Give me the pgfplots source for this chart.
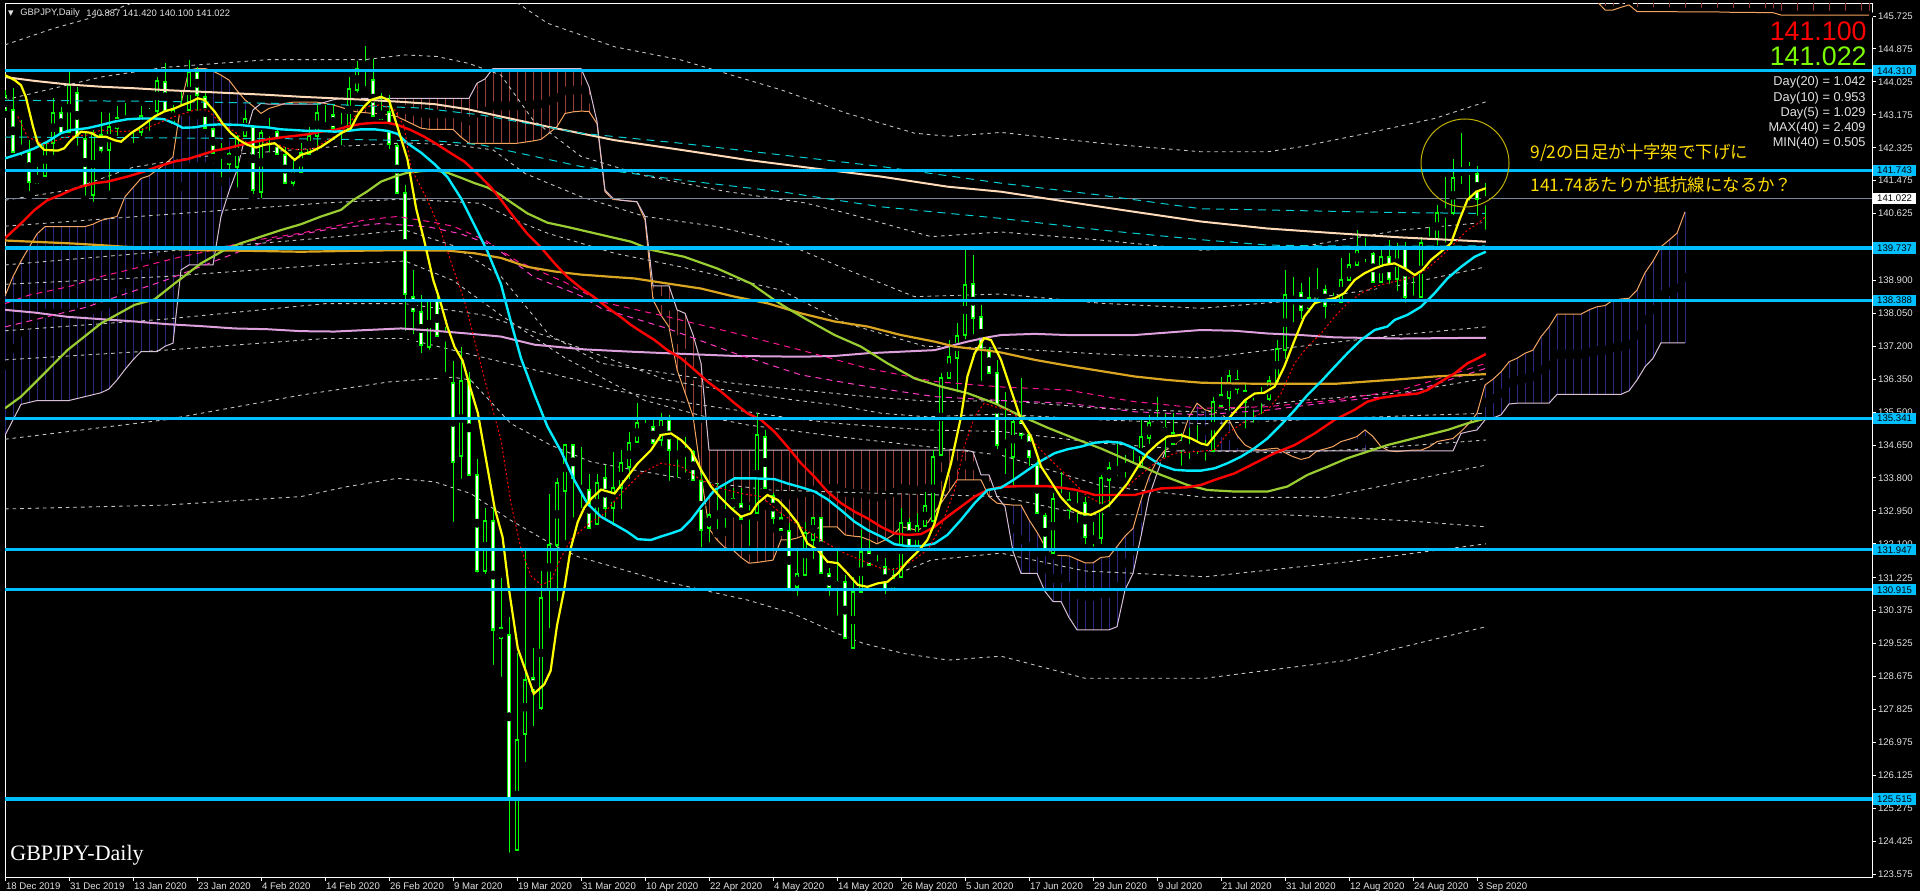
\documentclass[border=0pt]{standalone}
\usepackage{fontspec}
\setmainfont{Liberation Sans}
\newfontfamily\serifmt{Liberation Serif}
\newfontfamily\cjk{Noto Sans CJK JP}
\newfontfamily\djv{DejaVu Sans}
\usepackage{pgfplots}
\usepackage{pgfplotstable}
\pgfplotsset{compat=1.18}
\definecolor{mtgreen}{RGB}{0,255,0}
\definecolor{mtyellow}{RGB}{255,255,0}
\definecolor{mtcyan}{RGB}{0,235,255}
\definecolor{mtred}{RGB}{255,0,0}
\definecolor{mtyg}{RGB}{154,205,50}
\definecolor{mtgold}{RGB}{218,165,32}
\definecolor{mtplum}{RGB}{221,160,221}
\definecolor{mtpeach}{RGB}{255,218,185}
\definecolor{mtturq}{RGB}{0,206,209}
\definecolor{mtpink}{RGB}{255,20,147}
\definecolor{mtmag}{RGB}{255,60,200}
\definecolor{mtgray}{RGB}{195,195,195}
\definecolor{mtblue}{RGB}{0,191,255}
\definecolor{mtslate}{RGB}{119,136,153}
\definecolor{cloudnavy}{RGB}{40,40,130}
\definecolor{cloudbrown}{RGB}{150,60,50}
\definecolor{spanA}{RGB}{244,164,96}
\definecolor{spanB}{RGB}{216,191,216}
\definecolor{jpyellow}{RGB}{255,220,0}
\definecolor{circyellow}{RGB}{190,175,0}
\definecolor{bignum}{RGB}{124,252,0}
\definecolor{lbl}{RGB}{225,225,225}

\pgfplotsset{ebar/.style 2 args={forget plot, only marks, mark=none, error bars/.cd, y dir=#1, y explicit, error mark=none, error bar style={solid, #2}}}
\pgfplotsset{gd/.style={mtgray, line width=0.45pt, dash pattern=on 1.8pt off 2pt}}
\pgfplotsset{lvl/.style={mtblue, line width=1.6pt}}
\tikzset{tag/.style={anchor=west, fill=mtblue, text=black, inner xsep=1.9pt, inner ysep=0.5pt, xshift=0.5pt, font=\fontsize{4.8}{5.5}\selectfont, minimum height=5.6pt}}

% GBPJPY daily candles: bar index, open, high, low, close
\pgfplotstableread{
i o h l c
0 143.67 143.82 143.21 143.30
1 143.30 143.86 142.18 142.22
2 142.28 143.04 142.01 142.30
3 142.22 142.52 141.10 141.45
4 141.60 141.84 141.30 141.42
5 141.60 142.46 141.58 142.44
6 142.46 143.60 142.03 143.23
7 143.23 143.38 142.70 142.71
8 142.74 144.35 142.70 143.94
9 143.73 143.90 142.27 142.59
10 142.55 142.74 140.98 141.34
11 141.11 142.78 140.82 142.70
12 142.65 143.26 142.09 142.28
13 142.27 143.21 141.11 142.87
14 142.83 143.40 142.52 143.08
15 143.07 143.47 142.87 143.02
16 142.80 142.95 142.33 142.85
17 142.74 143.40 142.52 143.15
18 143.15 143.34 142.65 143.26
19 143.27 144.16 143.08 144.05
20 144.01 144.50 143.21 143.27
21 142.96 143.43 142.94 143.30
22 143.30 143.82 143.26 143.34
23 143.30 144.59 143.26 144.29
24 144.29 144.42 143.17 143.69
25 143.64 143.73 142.78 142.83
26 142.80 142.83 142.05 142.18
27 142.18 142.44 141.45 142.14
28 142.16 142.22 141.66 141.91
29 141.84 142.65 141.19 142.59
30 142.63 143.30 142.52 143.08
31 142.85 142.91 141.02 141.23
32 141.19 142.78 140.91 142.70
33 142.70 143.08 142.09 142.77
34 142.74 142.78 142.07 142.16
35 142.14 142.35 141.36 141.41
36 141.41 142.05 141.23 141.75
37 141.71 142.44 141.66 142.18
38 142.16 142.87 142.09 142.63
39 142.63 143.47 142.14 143.21
40 142.81 143.43 142.78 142.92
41 143.17 143.43 142.78 142.83
42 142.78 143.21 142.28 142.84
43 142.78 144.16 142.74 143.83
44 143.81 144.57 143.64 144.37
45 144.37 144.95 143.81 144.53
46 144.07 144.61 143.08 143.14
47 143.26 143.73 142.94 143.08
48 143.26 143.69 142.18 142.42
49 142.38 142.44 141.15 141.17
50 141.16 141.36 137.49 138.54
51 138.48 139.17 137.40 138.11
52 138.08 138.52 136.91 137.24
53 137.18 138.38 137.00 138.38
54 138.37 138.64 137.35 137.47
55 137.47 137.70 136.42 137.41
56 136.26 136.83 132.56 134.22
57 134.37 137.18 133.67 136.30
58 136.32 136.54 133.79 133.87
59 133.88 134.28 131.25 131.39
60 131.39 133.03 131.21 132.70
61 132.70 133.03 128.87 129.89
62 129.93 131.21 128.56 129.66
63 129.75 130.22 124.02 125.52
64 124.20 129.28 124.15 127.04
65 127.18 131.97 126.36 128.58
66 128.64 129.40 127.29 128.29
67 127.86 131.41 127.70 130.71
68 130.92 133.38 129.81 132.06
69 132.06 133.79 130.51 133.66
70 133.47 134.66 132.09 134.64
71 134.64 134.66 132.67 133.79
72 133.55 134.59 132.91 133.47
73 133.49 133.90 132.44 132.50
74 132.62 133.90 132.53 133.67
75 133.79 134.14 132.67 133.03
76 133.03 134.48 132.46 133.55
77 133.53 134.52 132.89 134.18
78 134.09 134.99 133.66 134.71
79 134.74 135.73 134.61 135.21
80 135.14 135.38 134.87 135.08
81 135.11 135.30 134.61 134.71
82 134.78 135.47 134.52 135.30
83 135.30 135.43 133.62 134.52
84 134.42 134.87 133.70 134.37
85 134.49 134.87 133.83 134.43
86 134.48 134.52 133.75 133.75
87 133.73 134.05 131.90 132.46
88 132.50 132.89 132.03 132.84
89 132.87 133.66 132.37 132.83
90 132.90 133.62 132.41 132.87
91 133.06 133.53 132.89 133.25
92 133.12 133.53 132.72 132.73
93 132.76 133.10 131.94 132.93
94 132.89 135.47 132.80 134.91
95 134.87 135.04 133.45 133.53
96 133.34 133.40 132.50 132.76
97 132.78 132.89 132.42 132.46
98 132.44 132.63 130.82 130.91
99 130.98 131.98 130.65 131.31
100 131.30 132.67 131.25 132.37
101 132.20 132.80 131.60 132.76
102 132.76 132.80 131.21 131.34
103 131.32 131.47 130.65 130.95
104 131.12 131.94 130.14 130.93
105 131.12 131.30 129.62 129.66
106 129.40 131.25 129.40 130.87
107 130.87 132.46 130.74 131.90
108 131.90 132.20 131.55 131.55
109 131.57 131.81 131.43 131.49
110 131.49 131.73 130.69 130.91
111 130.95 131.47 130.87 131.21
112 131.25 133.02 131.17 132.63
113 132.63 132.76 132.03 132.04
114 132.04 132.89 131.94 132.56
115 132.56 133.45 132.54 133.08
116 132.70 134.52 132.54 134.35
117 134.39 136.50 134.31 136.37
118 136.37 137.36 136.29 136.93
119 136.91 137.79 135.90 137.46
120 137.49 139.69 137.27 138.78
121 138.81 139.56 137.40 137.92
122 137.95 138.27 136.20 137.12
123 137.10 137.19 136.45 136.50
124 136.50 136.85 134.44 134.65
125 134.71 136.03 133.79 134.65
126 134.35 135.34 133.49 135.25
127 135.25 136.37 134.69 134.91
128 134.91 134.99 134.00 134.35
129 134.13 134.26 132.84 132.89
130 132.82 132.89 131.90 131.98
131 131.86 133.40 131.81 133.25
132 133.21 133.96 133.15 133.36
133 133.23 133.45 132.63 132.97
134 132.97 133.45 132.54 133.10
135 133.15 133.30 131.98 132.28
136 132.15 132.67 131.92 132.27
137 132.24 133.88 131.98 133.79
138 133.76 134.22 132.93 134.05
139 133.98 134.70 133.75 134.02
140 134.01 134.39 133.70 134.14
141 134.02 134.52 134.00 134.13
142 134.09 135.38 134.05 134.85
143 134.82 135.43 134.57 135.23
144 135.23 135.90 134.95 135.11
145 135.08 135.47 134.22 134.91
146 134.95 135.47 134.57 134.68
147 134.67 134.95 134.01 134.61
148 134.59 135.08 134.18 134.54
149 134.54 135.17 134.31 134.63
150 134.65 134.78 134.14 134.50
151 134.50 135.90 134.35 135.77
152 135.66 136.41 135.51 135.94
153 135.87 136.60 135.43 136.43
154 136.33 136.60 135.86 136.11
155 136.05 136.26 134.97 135.77
156 135.71 135.86 135.12 135.66
157 135.83 136.16 135.34 135.86
158 135.83 136.43 135.68 136.30
159 136.30 137.36 136.20 137.12
160 137.10 139.17 136.76 138.52
161 138.31 138.99 137.71 138.48
162 138.58 138.84 137.79 138.15
163 138.18 138.99 137.96 138.44
164 138.48 139.21 138.31 138.65
165 138.65 138.78 137.81 138.24
166 138.29 138.57 138.18 138.48
167 138.35 139.47 138.31 138.91
168 138.91 139.60 138.82 139.30
169 139.30 140.20 139.17 139.69
170 139.62 139.99 139.26 139.52
171 139.58 139.64 138.78 138.87
172 138.87 139.73 138.74 139.51
173 139.50 139.94 138.70 138.95
174 138.95 139.86 138.52 139.77
175 139.75 139.90 138.22 138.48
176 138.41 138.99 138.22 138.38
177 138.48 140.03 138.39 139.87
178 139.84 140.29 139.64 139.99
179 139.96 140.85 139.69 140.63
180 140.63 141.58 139.77 140.65
181 140.65 142.03 140.48 141.54
182 141.65 142.70 141.28 141.77
183 141.75 141.96 140.85 141.72
184 141.66 141.85 140.46 140.99
185 140.887 141.420 140.100 141.022
}\candles

% Ichimoku cloud: bar index, senkou span A, senkou span B
\pgfplotstableread{
i A B
0 138.50 134.90
1 139.00 135.30
2 139.40 135.70
3 139.75 135.75
4 140.10 135.80
5 140.29 135.80
6 140.29 135.80
7 140.29 135.80
8 140.29 135.80
9 140.29 135.85
10 140.29 135.90
11 140.35 135.95
12 140.45 136.00
13 140.50 136.10
14 140.55 136.33
15 141.06 136.60
16 141.30 136.85
17 141.53 137.06
18 141.60 137.06
19 141.75 137.06
20 141.90 137.20
21 142.09 137.28
22 143.47 139.17
23 144.33 139.30
24 144.37 139.30
25 144.37 139.30
26 144.30 139.30
27 144.20 140.55
28 144.07 141.20
29 143.80 141.75
30 143.56 142.60
31 143.40 143.30
32 143.21 143.47
33 143.34 143.45
34 143.40 143.45
35 143.47 143.45
36 143.50 143.45
37 143.50 143.45
38 143.50 143.45
39 143.50 143.45
40 143.47 143.50
41 143.43 143.56
42 143.37 143.60
43 143.30 143.60
44 143.25 143.60
45 143.23 143.60
46 143.21 143.60
47 143.21 143.60
48 143.17 143.60
49 143.13 143.60
50 143.03 143.60
51 142.93 143.60
52 142.83 143.60
53 142.80 143.60
54 142.80 143.60
55 142.80 143.60
56 142.80 143.60
57 142.60 143.60
58 142.44 143.60
59 142.44 143.99
60 142.44 144.10
61 142.44 144.37
62 142.44 144.37
63 142.44 144.37
64 142.44 144.37
65 142.47 144.37
66 142.50 144.37
67 142.54 144.37
68 142.70 144.37
69 142.87 144.37
70 143.21 144.37
71 143.25 144.37
72 143.27 144.37
73 143.26 143.90
74 142.95 143.00
75 141.19 141.23
76 140.99 141.02
77 140.97 140.97
78 140.95 140.95
79 140.93 140.93
80 140.46 140.55
81 138.40 138.76
82 138.00 138.76
83 137.70 138.76
84 136.60 138.14
85 136.00 138.05
86 135.40 137.50
87 133.90 136.76
88 132.50 134.52
89 132.20 134.52
90 132.00 134.52
91 131.94 134.52
92 131.75 134.52
93 131.60 134.52
94 131.62 134.52
95 131.65 134.52
96 131.68 134.52
97 132.20 134.52
98 132.20 134.52
99 132.25 134.52
100 132.33 134.52
101 132.45 134.52
102 132.54 134.52
103 132.54 134.52
104 132.54 134.52
105 132.33 134.52
106 132.30 134.52
107 132.28 134.52
108 132.20 134.52
109 132.10 134.52
110 132.20 134.52
111 132.33 134.52
112 132.54 134.52
113 132.50 134.52
114 132.45 134.52
115 132.54 134.52
116 132.85 134.52
117 133.15 134.52
118 133.45 134.52
119 133.75 134.52
120 133.75 134.52
121 133.75 134.48
122 133.75 133.88
123 133.32 133.88
124 133.15 133.32
125 133.12 133.06
126 133.10 131.90
127 133.10 131.34
128 132.72 131.34
129 132.40 131.34
130 132.03 130.87
131 131.81 130.61
132 131.80 130.61
133 131.79 130.20
134 131.70 129.88
135 131.61 129.88
136 131.61 129.88
137 131.75 129.88
138 131.77 129.88
139 132.03 129.96
140 132.30 130.91
141 132.50 131.34
142 133.23 132.30
143 133.83 133.32
144 134.26 133.92
145 134.52 134.48
146 134.60 134.50
147 134.78 134.50
148 135.38 134.50
149 135.73 134.50
150 135.56 134.50
151 135.51 134.50
152 135.45 134.50
153 135.30 134.50
154 134.90 134.50
155 134.65 134.50
156 134.55 134.50
157 134.52 134.50
158 134.55 134.50
159 134.57 134.50
160 134.45 134.50
161 134.35 134.50
162 134.28 134.50
163 134.33 134.50
164 134.50 134.50
165 134.55 134.50
166 134.61 134.50
167 134.74 134.50
168 134.80 134.50
169 134.87 134.50
170 135.04 134.50
171 134.87 134.50
172 134.61 134.50
173 134.50 134.50
174 134.48 134.50
175 134.50 134.50
176 134.52 134.50
177 134.52 134.50
178 134.60 134.50
179 134.74 134.50
180 134.78 134.50
181 134.82 134.50
182 135.00 134.95
183 135.21 135.00
184 135.47 135.04
185 136.20 135.30
186 136.35 135.35
187 136.54 135.43
188 136.80 135.71
189 136.89 135.73
190 137.02 135.73
191 137.10 135.73
192 137.45 135.73
193 137.70 135.73
194 138.03 135.96
195 138.03 135.96
196 138.03 135.96
197 138.03 135.96
198 138.14 135.96
199 138.22 135.96
200 138.25 135.96
201 138.39 135.96
202 138.42 135.96
203 138.44 136.05
204 138.65 136.33
205 139.10 136.67
206 139.40 136.89
207 139.77 137.29
208 139.94 137.29
209 140.12 137.29
210 140.67 137.29
}\cloud

% cloud sliver at the top edge
\pgfplotstableread{
i a
199 146.10
200 145.88
201 145.88
202 145.95
203 146.01
204 145.84
206 145.84
208 145.84
210 145.83
212 145.83
214 145.83
216 145.82
218 145.82
220 145.81
221 145.81
222 145.75
224 145.75
226 145.75
228 145.75
230 145.75
232 145.75
233 145.75
}\topcloud

\begin{document}
\begin{tikzpicture}
\fill[black] (0pt,0pt) rectangle (960pt,445.5pt);
\useasboundingbox (0pt,0pt) rectangle (960pt,445.5pt);
\begin{axis}[
  at={(2.5pt,7pt)}, anchor=south west,
  width=933.5pt, height=436.5pt, scale only axis,
  xmin=0, xmax=233.375, ymin=123.5, ymax=146.035,
  clip mode=individual,
  axis background/.style={fill=black},
  axis line style={white, line width=0.5pt},
  tick align=outside, major tick length=2pt,
  tick style={white, line width=0.5pt},
  xtick pos=bottom, ytick pos=right, yticklabel pos=right,
  scaled y ticks=false,
  xtick={0,8,...,184},
  xticklabels={18 Dec 2019,31 Dec 2019,13 Jan 2020,23 Jan 2020,4 Feb 2020,14 Feb 2020,26 Feb 2020,9 Mar 2020,19 Mar 2020,31 Mar 2020,10 Apr 2020,22 Apr 2020,4 May 2020,14 May 2020,26 May 2020,5 Jun 2020,17 Jun 2020,29 Jun 2020,9 Jul 2020,21 Jul 2020,31 Jul 2020,12 Aug 2020,24 Aug 2020,3 Sep 2020},
  xticklabel style={font=\fontsize{4.8}{5.5}\selectfont, text=lbl, anchor=north west, inner sep=0pt, xshift=0.3pt, yshift=-0.6pt},
  ytick={123.575,124.425,125.275,126.125,126.975,127.825,128.675,129.525,130.375,131.225,132.100,132.950,133.800,134.650,135.500,136.350,137.200,138.050,138.900,140.625,141.475,142.325,143.175,144.025,144.875,145.725},
  yticklabel style={font=\fontsize{4.8}{5.5}\selectfont, text=lbl, anchor=west, inner sep=0pt, xshift=0.8pt, /pgf/number format/.cd, fixed, fixed zerofill, precision=3, 1000 sep={}, assume math mode=true},
]

% ---------- Ichimoku cloud hatching ----------
\addplot[ebar={both}{draw=cloudnavy, line width=0.5pt}] table[x=i, y expr={(\thisrow{A}+\thisrow{B})/2}, y error expr={(\thisrow{A}>\thisrow{B})*abs(\thisrow{A}-\thisrow{B})/2}] {\cloud};
\addplot[ebar={both}{draw=cloudbrown, line width=0.5pt}] table[x=i, y expr={(\thisrow{A}+\thisrow{B})/2}, y error expr={(\thisrow{B}>\thisrow{A})*abs(\thisrow{A}-\thisrow{B})/2}] {\cloud};
\addplot[ebar={plus}{draw=cloudbrown, line width=0.5pt}] table[x=i, y=a, y error expr={146.1-\thisrow{a}}] {\topcloud};
\addplot[spanA, line width=0.5pt] table[x=i, y=a] {\topcloud};
\addplot[spanA, line width=0.5pt] table[x=i, y=A] {\cloud};
\addplot[spanB, line width=0.5pt] table[x=i, y=B] {\cloud};

% ---------- gray dashed bands ----------
\addplot[gd] coordinates {(0,144.98)(6,145.4)(12,145.75)(17,146.15)(22,146.5)(58,146.5)(62,146.3)(64.5,146.0)(67.8,145.54)(76.2,144.93)(84.5,144.59)(88.7,144.33)(97,143.82)(105.3,143.21)(113.7,142.7)(118,142.62)(124.5,142.72)(137,142.44)(149.5,142.22)(157.8,142.22)(162,142.35)(170.3,142.70)(178.7,143.08)(185.1,143.51)};
\addplot[gd] coordinates {(0,143.56)(12,144.15)(20,144.4)(33,144.6)(45,144.6)(50,144.72)(54,144.68)(58,144.5)(62,144.2)(66,143.04)(72,142.1)(80,141.6)(90,141.2)(100,140.9)(105.3,140.63)(115.75,140.03)(124.5,140.15)(137,139.94)(149.5,139.68)(162,139.77)(174.5,140.2)(185.1,140.4)};
\addplot[gd] coordinates {(0,140.97)(8,141.23)(16,141.82)(24,142.09)(33,142.22)(41,142.35)(50,142.45)(56,142.4)(61,142.27)(65,141.66)(72,141.06)(80,140.55)(89,140.29)(97,139.9)(105,139.2)(113.7,138.48)(124.5,138.55)(137,138.31)(149.5,138.18)(162,138.39)(174.5,138.78)(185.1,139.25)};
\addplot[gd] coordinates {(0,140.3)(20,140.6)(40,140.9)(50,141.0)(59.5,140.89)(63.7,140.46)(67.8,140.12)(76.2,139.6)(84.5,139.25)(97,138.65)(105,137.8)(115,137.2)(124.5,137.15)(137,137.0)(150,136.9)(162,137.2)(174.5,137.5)(185.1,137.7)};
\addplot[gd] coordinates {(0,139.3)(20,139.65)(40,140.0)(50,140.2)(56,139.8)(62,139.0)(68,137.5)(74.5,136.76)(82.8,136.5)(91.2,136.24)(99.5,136.07)(107.8,135.9)(116.2,135.77)(124.5,135.8)(137,135.6)(150,135.5)(162,135.8)(174.5,136.0)(185.1,136.37)};
\addplot[gd] coordinates {(0,138.8)(20,139.0)(40,139.3)(50,139.4)(56,138.9)(62,138.0)(70,136.9)(80,135.8)(87.2,135.4)(92.8,135.17)(104,134.87)(115.2,134.61)(124.5,134.39)(137,133.6)(150,133.3)(165,133.3)(185.1,134.13)};
\addplot[gd] coordinates {(0,137.6)(20,137.9)(40,138.3)(50,138.3)(60,138.0)(70,137.3)(82.7,136.33)(87.2,136.16)(92.8,135.99)(98.4,135.82)(104,135.68)(109.6,135.47)(115.2,135.38)(124.5,135.45)(137,135.3)(150,135.2)(162,135.3)(174.5,135.4)(185.1,135.47)};
\addplot[gd] coordinates {(0,136.85)(20,137.1)(40,137.4)(50,137.4)(58,137.0)(66,136.6)(71.6,136.33)(76,136.07)(81.6,135.86)(87.2,135.68)(92.8,135.51)(98.4,135.34)(104,135.21)(109.6,135.12)(115.2,135.04)(124.5,135.0)(137,134.7)(150,134.5)(160,134.45)(170,134.55)(185.1,134.78)};
\addplot[gd] coordinates {(0,134.8)(20,135.3)(37,135.94)(48,136.28)(56,136.4)(58.2,136.33)(63.2,135.21)(68.2,134.65)(73.2,134.22)(78.8,134.0)(87.2,133.70)(95.6,133.49)(110,133.4)(124.5,133.32)(135,132.85)(160,132.85)(175,132.7)(185.1,132.54)};
\addplot[gd] coordinates {(0,133.0)(20,133.1)(37,133.32)(42.6,133.57)(49,133.79)(53.7,133.70)(58.2,133.40)(63.2,132.71)(68.2,132.11)(71.6,131.77)(76,131.51)(81.6,131.17)(87.2,130.91)(92.8,130.65)(98.4,130.31)(104,129.79)(107.3,129.53)(112.3,129.27)(117.9,129.1)(124.5,129.2)(135,128.63)(150,128.63)(168,129.1)(185.1,129.96)};
\addplot[gd] coordinates {(110,131.2)(115.75,131.68)(124.5,131.86)(135,131.4)(150,131.25)(168,131.64)(185.1,132.1)};

% current price line
\addplot[mtslate, line width=0.5pt] coordinates {(0,141.022)(233.375,141.022)};

% ---------- candles ----------
\addplot[ebar={plus}{draw=mtgreen, line width=0.5pt}] table[x=i, y=l, y error expr={\thisrow{h}-\thisrow{l}}] {\candles};
\addplot[ebar={both}{draw=mtgreen, line width=2.4pt}] table[x=i, y expr={(\thisrow{o}+\thisrow{c})/2}, y error expr={abs(\thisrow{o}-\thisrow{c})/2+0.026}] {\candles};
\addplot[ebar={both}{draw=white, line width=1.4pt}] table[x=i, y expr={(\thisrow{o}+\thisrow{c})/2}, y error expr={(\thisrow{o}>\thisrow{c})*max(abs(\thisrow{o}-\thisrow{c})/2-0.026,0)}] {\candles};
\addplot[ebar={both}{draw=black, line width=1.4pt}] table[x=i, y expr={(\thisrow{o}+\thisrow{c})/2}, y error expr={(\thisrow{c}>=\thisrow{o})*max(abs(\thisrow{o}-\thisrow{c})/2-0.026,0)}] {\candles};

% ---------- moving averages ----------
\addplot[mtplum, line width=1pt] coordinates {(0,138.14)(3.7,138.07)(7.8,137.96)(12,137.90)(16.2,137.84)(20.3,137.77)(24.5,137.72)(28.7,137.66)(32.8,137.64)(37,137.59)(41.2,137.58)(45.3,137.62)(49.5,137.66)(53.7,137.60)(57.8,137.53)(62,137.45)(66.2,137.24)(72.4,137.12)(78.25,137.06)(82.8,137.02)(91.2,136.95)(99.5,136.93)(103.7,136.95)(107.8,137.02)(112,137.06)(116.2,137.1)(120.3,137.32)(122.8,137.43)(124.5,137.49)(128.7,137.52)(132.8,137.49)(141.2,137.49)(149.5,137.62)(153.7,137.60)(157.8,137.53)(162,137.49)(166.2,137.43)(174.5,137.40)(185.1,137.42)};
\addplot[mtpeach, line width=1pt] coordinates {(0,144.15)(3.7,144.05)(7.8,143.96)(12,143.90)(16.2,143.86)(20.3,143.81)(24.5,143.77)(28.7,143.73)(32.8,143.69)(37,143.64)(41.2,143.6)(45.3,143.56)(49.5,143.51)(53.7,143.45)(57.8,143.32)(62,143.13)(67.8,142.87)(76.2,142.52)(84.5,142.27)(92.8,142.01)(101.2,141.79)(109.5,141.58)(117.8,141.32)(124.5,141.19)(132.8,140.93)(141.2,140.67)(149.5,140.42)(157.8,140.24)(166.2,140.12)(174.5,140.01)(185.1,139.9)};
\addplot[mtturq, line width=0.5pt, dash pattern=on 4pt off 3pt] coordinates {(0,143.55)(20,143.52)(40,143.45)(52,143.35)(59.5,143.17)(72,142.7)(84.5,142.44)(97,142.14)(109.5,141.84)(124.5,141.41)(137,141.1)(149.5,140.75)(162,140.7)(174.5,140.65)(185,140.63)};
\addplot[mtturq, line width=0.5pt, dash pattern=on 4pt off 3pt] coordinates {(0,142.6)(20,142.58)(40,142.55)(54,142.5)(59.5,142.40)(72,141.84)(84.5,141.49)(97,141.19)(109.5,140.80)(124.5,140.5)(137,140.2)(149.5,139.95)(158,139.81)(170,139.78)(185,139.79)};
\addplot[mtpink, line width=0.5pt, dash pattern=on 3pt off 2.5pt] coordinates {(0,138.3)(3,138.52)(8,138.74)(12,139.0)(17,139.25)(22,139.51)(26,139.68)(30,139.9)(37,140.12)(45,140.46)(49,140.55)(53,140.42)(56,140.3)(60,139.94)(64,139.4)(70,138.85)(74.5,138.35)(82.8,137.96)(91.2,137.54)(99.5,137.1)(107.8,136.63)(116.2,136.29)(124.5,136.15)(132.8,136.07)(141.2,135.77)(149.5,135.6)(157.8,135.64)(166.2,135.81)(174.5,136.07)(178.7,136.33)(185.1,136.76)};
\addplot[mtmag, line width=0.5pt, dash pattern=on 3pt off 2.5pt] coordinates {(0,137.7)(10,138.2)(20,138.9)(33,139.94)(41,140.24)(47,140.37)(53,140.28)(57,140.1)(61,139.8)(66,139.0)(72,138.5)(74.5,138.18)(82.8,137.66)(91.2,137.02)(99.5,136.46)(107.8,136.16)(116.2,135.9)(124.5,135.8)(132.8,135.73)(141.2,135.51)(149.5,135.43)(157.8,135.55)(166.2,135.77)(174.5,135.94)(185.1,136.63)};
\addplot[mtgold, line width=1.1pt] coordinates {(0,139.93)(7.8,139.86)(12,139.81)(14.9,139.77)(24.5,139.68)(28.7,139.67)(37,139.64)(45.3,139.67)(49.5,139.68)(55.3,139.67)(58.7,139.6)(62,139.48)(65.3,139.25)(68.7,139.13)(72,139.05)(75.3,139.0)(78.7,138.95)(82.8,138.82)(87,138.69)(91.2,138.48)(95.3,138.31)(99.5,138.05)(103.7,137.84)(107.8,137.71)(112,137.49)(116.2,137.32)(118.7,137.19)(122.4,137.1)(124.5,137.04)(128.7,136.85)(132.8,136.7)(137,136.56)(141.2,136.42)(145.3,136.33)(149.5,136.26)(153.7,136.24)(157.8,136.23)(162,136.23)(166.2,136.23)(170.3,136.29)(174.5,136.35)(178.7,136.42)(182.8,136.46)(185.1,136.48)};
\addplot[mtyg, line width=1.1pt] coordinates {(0,135.6)(2,135.9)(4.1,136.33)(7.8,137.10)(12,137.79)(16.2,138.27)(18.7,138.41)(21.2,138.82)(24.5,139.34)(27.8,139.73)(29.5,139.86)(32,140.03)(34.5,140.20)(37,140.35)(39.5,140.55)(42,140.72)(43.5,140.97)(45.3,141.2)(47,141.45)(48.7,141.58)(50.3,141.68)(52,141.72)(53.7,141.74)(55.3,141.68)(57,141.55)(58.7,141.41)(60.3,141.3)(62,141.1)(62.8,140.98)(65.3,140.63)(67.8,140.39)(70.3,140.28)(72.8,140.16)(75.3,140.04)(78.25,139.9)(80.75,139.69)(84.9,139.51)(89,139.21)(93.25,138.82)(96.2,138.39)(97.8,138.18)(100.3,137.88)(103.7,137.49)(107,137.19)(110.3,136.76)(113.7,136.37)(117,136.16)(120.3,135.99)(123.7,135.73)(127,135.4)(130.3,135.1)(133.7,134.82)(137,134.56)(141.2,134.18)(144.5,133.88)(147.8,133.62)(150.3,133.49)(153.7,133.45)(157.8,133.45)(160.3,133.58)(162.8,133.88)(165.3,134.09)(167.8,134.31)(170.3,134.48)(172.8,134.65)(175.3,134.78)(177.8,134.91)(180.3,135.04)(182.8,135.21)(185.1,135.34)};
\addplot[mtred, line width=1.2pt] coordinates {(0,139.99)(2,140.37)(3.7,140.72)(5.3,140.97)(7,141.11)(8.25,141.23)(9.5,141.32)(11.2,141.41)(12.8,141.45)(15.3,141.58)(17.4,141.71)(19.1,141.84)(21.2,141.97)(22.8,142.03)(24.5,142.14)(26.2,142.25)(27.8,142.31)(29.5,142.40)(31.2,142.48)(32.8,142.54)(34.5,142.59)(36.2,142.63)(37.8,142.67)(39.5,142.74)(41.2,142.78)(42.8,142.87)(44.5,142.94)(46.2,142.97)(47.8,142.97)(49.1,142.91)(50.75,142.78)(52.4,142.61)(54.1,142.40)(55.75,142.18)(57.4,141.97)(59.1,141.65)(60.75,141.3)(62,140.98)(63.7,140.51)(65.3,140.10)(67,139.75)(68.7,139.34)(70.3,138.99)(72,138.7)(73.7,138.46)(75.3,138.2)(77,137.95)(78.25,137.75)(79.5,137.58)(81.2,137.36)(82.8,137.10)(84.5,136.89)(86.2,136.59)(87.8,136.29)(89.5,136.03)(91.2,135.73)(92.8,135.47)(94.5,135.30)(96.2,134.99)(97.8,134.61)(99.5,134.18)(101.2,133.83)(102.8,133.45)(104.5,133.15)(106.2,132.93)(107.8,132.76)(109.5,132.54)(111.2,132.37)(112.8,132.33)(114.5,132.35)(116.2,132.54)(117.8,132.80)(119.5,133.06)(121.2,133.32)(122.8,133.49)(124.5,133.57)(127,133.59)(130.3,133.59)(132,133.55)(133.7,133.5)(135.3,133.42)(136.2,133.36)(141.2,133.36)(142.8,133.45)(144.5,133.53)(147.8,133.56)(149.5,133.62)(151.2,133.75)(153.7,133.92)(156.2,134.18)(158.7,134.44)(161.2,134.65)(163.7,134.95)(166.2,135.30)(168.7,135.56)(170.3,135.77)(172,135.87)(174.5,135.94)(176.6,135.98)(177.8,136.07)(179.5,136.29)(181.2,136.5)(182.8,136.76)(184.1,136.89)(185.1,137.0)};
\addplot[mtcyan, line width=1.2pt] coordinates {(0,142.05)(2,142.18)(3.7,142.31)(5.3,142.48)(7,142.7)(8.25,142.78)(10.3,142.83)(12,142.91)(13.7,143.0)(15.3,143.06)(17,143.08)(18.7,143.08)(19.9,143.06)(21.2,142.95)(22.2,142.84)(23.7,142.85)(25.3,142.91)(27,142.93)(29.5,142.91)(31.2,142.87)(32.8,142.85)(34.5,142.80)(36.2,142.78)(37.8,142.76)(39.5,142.76)(41.2,142.74)(42.8,142.76)(44.5,142.80)(46.2,142.80)(47.8,142.76)(49.1,142.68)(50.3,142.44)(52,142.2)(53.7,141.9)(55.3,141.57)(57,141.02)(58.7,140.32)(60.3,139.65)(62,138.8)(63.25,137.82)(64.5,136.89)(66.2,135.95)(67.8,135.13)(69.5,134.49)(71.2,133.73)(72.8,133.14)(74.5,132.8)(76.2,132.6)(77.8,132.41)(79.1,132.22)(80.75,132.2)(82,132.29)(83.25,132.37)(84.5,132.46)(85.75,132.72)(87,133.06)(88.7,133.49)(91.2,133.79)(93.7,133.79)(96.2,133.77)(97.8,133.66)(99.5,133.56)(101.2,133.45)(102.8,133.25)(104.5,132.97)(106.2,132.67)(107.8,132.46)(109.5,132.29)(111.2,132.09)(112.8,132.04)(114.5,132.04)(116.2,132.11)(117.8,132.33)(119.5,132.72)(121.2,133.15)(122.8,133.49)(124.5,133.55)(126.2,133.77)(127.8,134.0)(129.5,134.24)(131.2,134.44)(132.8,134.54)(134.5,134.61)(136.2,134.71)(137.8,134.74)(139.5,134.71)(141.2,134.56)(142.8,134.35)(144.5,134.13)(146.2,134.01)(147.8,133.99)(149.5,133.99)(151.2,134.05)(152.8,134.18)(154.5,134.35)(156.2,134.57)(157.8,134.82)(159.5,135.17)(161.2,135.55)(162.8,135.94)(164.5,136.29)(166.2,136.67)(167.8,137.02)(169.5,137.36)(171.2,137.62)(172.8,137.71)(173.7,137.88)(175.3,138.01)(177,138.22)(178.7,138.57)(180.3,138.95)(182,139.25)(183.7,139.51)(185.1,139.64)};
\addplot[mtred, line width=0.5pt, dash pattern=on 1pt off 1.2pt] coordinates {(1.6,143.13)(2.8,142.61)(4.9,142.40)(7.8,142.61)(10.3,142.65)(12,142.78)(14.5,142.74)(17,142.78)(19.1,142.95)(21.2,143.13)(23.7,143.3)(25.3,143.3)(27,142.95)(28.7,142.74)(30.3,142.44)(32,142.48)(33.7,142.44)(35.3,142.31)(37,142.27)(38.7,142.31)(40.3,142.52)(42,142.70)(43.7,143.13)(45.3,143.39)(47,143.43)(48.7,143.30)(49.9,142.87)(50.75,141.8)(52.8,140.98)(54.5,140.16)(56.2,139.1)(57.4,138.4)(58.7,137.35)(60.3,136.07)(62,134.78)(63.25,133.14)(64.5,131.97)(65.75,131.27)(67,131.04)(68.25,131.15)(69.5,131.74)(70.75,132.21)(72,132.44)(73.25,132.67)(74.5,132.8)(77,133.4)(79.5,133.92)(82,134.18)(84.5,134.1)(87,133.75)(89.5,133.53)(92,133.40)(94.5,133.32)(97,132.89)(99.5,132.54)(102,132.2)(104.5,131.9)(107,131.68)(109.5,131.47)(111.2,131.43)(113.25,131.64)(115.3,131.94)(117,132.54)(118.7,133.49)(119.9,134.61)(121.2,135.38)(122.4,135.73)(123.7,135.64)(125.3,135.56)(127,135.3)(128.7,134.69)(130.3,134.35)(132,134.01)(133.7,133.66)(135.3,133.32)(137,133.15)(138.7,133.27)(141.2,133.75)(143.7,134.18)(146.2,134.44)(148.7,134.48)(151.2,134.52)(152.8,134.95)(155.3,135.3)(157.8,135.55)(159.5,135.98)(161.2,136.76)(162.8,137.19)(164.5,137.53)(166.2,137.96)(167.8,138.31)(169.5,138.57)(171.2,138.74)(172.8,138.83)(174.5,138.91)(176.2,139.0)(177.8,139.21)(179.5,139.51)(181.2,139.86)(182.8,140.20)(184.1,140.37)(185.1,140.55)};
\addplot[mtyellow, line width=1.1pt] coordinates {(0,144.2)(1.2,144.07)(2,143.94)(2.6,143.64)(3.5,142.87)(4.1,142.44)(4.9,142.27)(6.6,142.25)(7.4,142.31)(8.25,142.52)(9.5,142.74)(10.75,142.71)(11.6,142.61)(12.6,142.61)(13.7,142.52)(14.5,142.48)(15.75,142.70)(17,142.87)(18.7,143.13)(19.9,143.26)(21.2,143.34)(22.2,143.43)(23.25,143.51)(24.1,143.6)(24.9,143.56)(26.2,143.26)(27.2,142.95)(28.25,142.70)(29.3,142.52)(30.3,142.40)(31.4,142.33)(32.4,142.40)(33.7,142.44)(34.5,142.31)(35.3,142.18)(36.2,142.01)(37,142.14)(38.25,142.22)(39.5,142.35)(40.75,142.52)(42,142.70)(43.25,142.83)(44.1,143.17)(44.9,143.39)(45.75,143.56)(47,143.64)(48,143.55)(49,142.9)(50.3,142.03)(51.4,140.75)(52.4,139.93)(53.5,138.93)(54.5,138.29)(55.3,137.7)(56.2,137.18)(57.2,136.83)(58,136.24)(59.1,135.48)(60.1,134.31)(61.2,133.03)(62.2,132.27)(63,130.92)(64.1,129.4)(64.9,128.93)(66.1,128.23)(67.4,128.47)(68.2,128.82)(69,129.99)(69.9,130.92)(70.7,131.97)(71.6,132.67)(72.4,133.03)(73.25,133.26)(74.5,133.5)(76.2,133.40)(77.8,133.83)(79.1,134.18)(80.75,134.52)(82,134.91)(83.25,134.95)(84.5,134.78)(85.75,134.52)(87,134.01)(88.25,133.58)(89.5,133.28)(90.75,133.02)(92,132.8)(93.25,132.89)(94.1,133.15)(95.3,133.36)(96.6,133.23)(97.8,132.97)(99.1,132.63)(100.3,132.11)(101.6,131.94)(102.8,131.64)(104.1,131.60)(105.3,131.34)(106.6,131.04)(107.8,130.99)(109.1,131.08)(110.3,131.12)(111.6,131.34)(112.8,131.64)(114.1,131.90)(115.3,132.2)(116.2,132.63)(117,133.23)(118.25,134.18)(119.5,135.38)(120.3,136.42)(121.2,137.02)(122.4,137.41)(123.25,137.36)(124.5,136.85)(125.75,136.07)(127,135.3)(128.25,134.87)(129.5,134.1)(130.75,133.7)(132,133.3)(133.25,133.02)(134.5,132.89)(135.75,132.85)(137,132.97)(138,133.1)(139.1,133.36)(140.3,133.66)(141.6,134.09)(142.8,134.44)(144.1,134.69)(145.3,134.87)(147,134.91)(148.25,134.82)(149.5,134.69)(150.3,134.65)(151.6,134.99)(152.8,135.30)(153.7,135.51)(155,135.81)(156.2,135.98)(157.4,136.0)(158.7,136.16)(159.9,136.67)(161.2,137.36)(162.4,137.96)(163.7,138.31)(164.9,138.39)(166.2,138.44)(167.4,138.57)(168.7,138.91)(169.9,139.08)(171.2,139.21)(172.4,139.30)(173.7,139.34)(175,139.21)(176.2,139.04)(177.2,139.17)(178.25,139.43)(179.5,139.64)(180.75,139.86)(181.8,140.46)(182.8,140.98)(183.9,141.19)(185.1,141.28)};

% ---------- horizontal levels ----------
\addplot[lvl] coordinates {(0,144.310)(233.375,144.310)};
\addplot[lvl] coordinates {(0,141.743)(233.375,141.743)};
\addplot[lvl] coordinates {(0,139.737)(233.375,139.737)};
\addplot[lvl] coordinates {(0,138.388)(233.375,138.388)};
\addplot[lvl] coordinates {(0,135.341)(233.375,135.341)};
\addplot[lvl] coordinates {(0,131.947)(233.375,131.947)};
\addplot[lvl] coordinates {(0,130.915)(233.375,130.915)};
\addplot[lvl] coordinates {(0,125.515)(233.375,125.515)};

% level price tags on the right scale
\node[tag] at (axis cs:233.375,144.310) {144.310};
\node[tag] at (axis cs:233.375,141.743) {141.743};
\node[tag] at (axis cs:233.375,139.737) {139.737};
\node[tag] at (axis cs:233.375,138.388) {138.388};
\node[tag] at (axis cs:233.375,135.341) {135.341};
\node[tag] at (axis cs:233.375,131.947) {131.947};
\node[tag] at (axis cs:233.375,130.915) {130.915};
\node[tag] at (axis cs:233.375,125.515) {125.515};
\node[tag, fill=white] at (axis cs:233.375,141.022) {141.022};
\end{axis}

% ---------- texts ----------
\node[anchor=center, inner sep=0pt, text=lbl] at (5.5pt,438.8pt) {\djv\fontsize{3.6}{4}\selectfont ▼};
\node[anchor=west, inner sep=0pt, text=lbl, font=\fontsize{4.7}{5.5}\selectfont] at (10pt,439pt) {GBPJPY,Daily};
\node[anchor=west, inner sep=0pt, text=lbl, font=\fontsize{4.7}{5.5}\selectfont] at (43pt,439pt) {140.887 141.420 140.100 141.022};
\node[anchor=west, inner sep=0pt, text=white] at (5pt,18pt) {\serifmt\fontsize{11}{12}\selectfont GBPJPY-Daily};

\node[anchor=east, inner sep=0pt, text=mtred, font=\fontsize{13.4}{14}\selectfont] at (933.5pt,430pt) {141.100};
\node[anchor=east, inner sep=0pt, text=bignum, font=\fontsize{13.4}{14}\selectfont] at (933.5pt,417.25pt) {141.022};
\node[anchor=east, inner sep=0pt, text=lbl, font=\fontsize{6.4}{7}\selectfont] at (933pt,404.2pt) {Day(20) = 1.042};
\node[anchor=east, inner sep=0pt, text=lbl, font=\fontsize{6.4}{7}\selectfont] at (933pt,396.4pt) {Day(10) = 0.953};
\node[anchor=east, inner sep=0pt, text=lbl, font=\fontsize{6.4}{7}\selectfont] at (933pt,388.9pt) {Day(5) = 1.029};
\node[anchor=east, inner sep=0pt, text=lbl, font=\fontsize{6.4}{7}\selectfont] at (933pt,381.4pt) {MAX(40) = 2.409};
\node[anchor=east, inner sep=0pt, text=lbl, font=\fontsize{6.4}{7}\selectfont] at (933pt,373.9pt) {MIN(40) = 0.505};

\node[anchor=west, inner sep=0pt, text=jpyellow] at (765pt,369.3pt) {\cjk\fontsize{8.7}{10}\selectfont 9/2の日足が十字架で下げに};
\node[anchor=west, inner sep=0pt, text=jpyellow] at (765pt,353pt) {\cjk\fontsize{8.7}{10}\selectfont 141.74あたりが抵抗線になるか？};
\draw[circyellow, line width=0.5pt] (732.5pt,364pt) circle (22pt);
\end{tikzpicture}
\end{document}
